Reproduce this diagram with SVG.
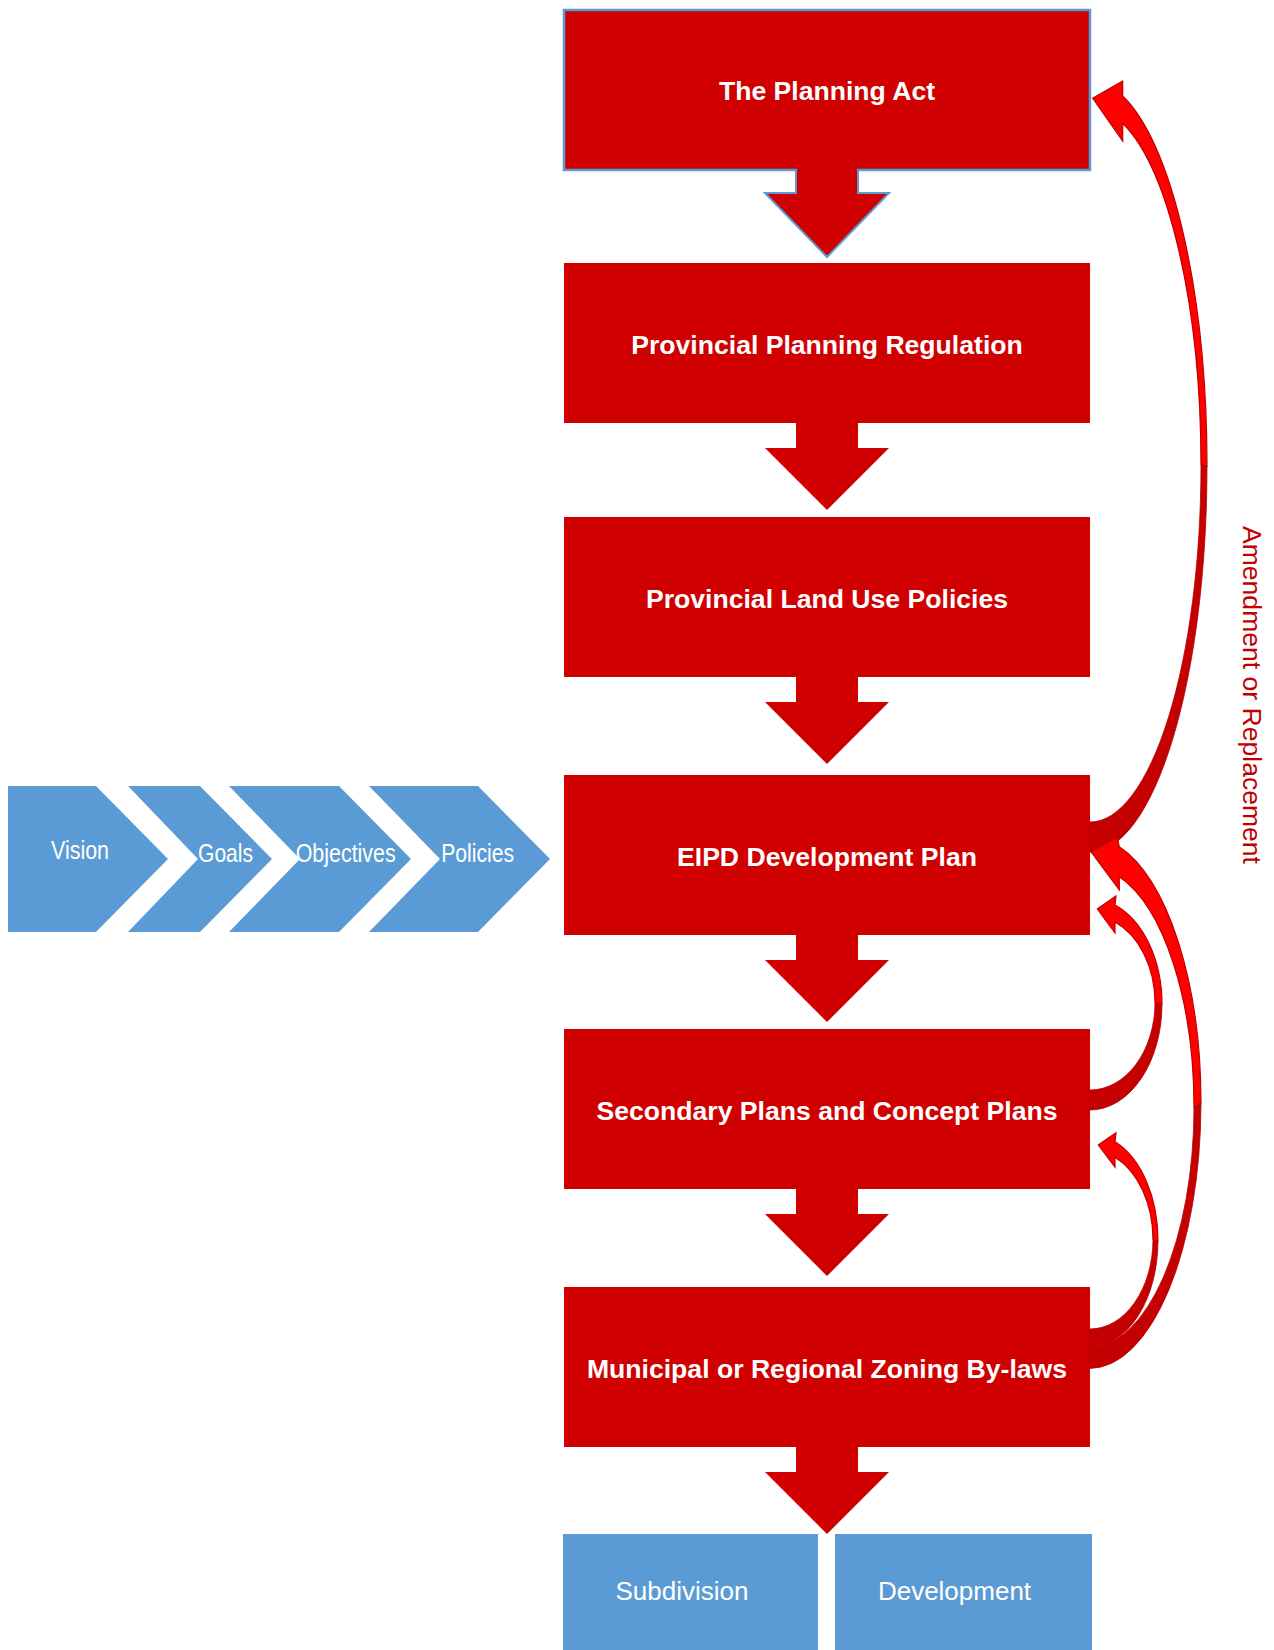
<svg xmlns="http://www.w3.org/2000/svg" width="1274" height="1650" viewBox="0 0 1274 1650">
<style>
.box{fill:#D00000}
.btxt{font-family:"Liberation Sans",Arial,sans-serif;font-weight:bold;font-size:26.6px;fill:#FFFFFF;text-anchor:middle}
.blue{fill:#5B9BD5}
.wtxt{font-family:"Liberation Sans",Arial,sans-serif;font-size:26px;fill:#FFFFFF;text-anchor:middle}
.down{fill:#D00000}
.light{fill:#FF0000;stroke:#C00000;stroke-width:1.2;stroke-linejoin:miter}
.dark{fill:#C40000;stroke:#B80000;stroke-width:0.8}
.rtxt{font-family:"Liberation Sans",Arial,sans-serif;font-size:26px;fill:#C00000}
</style>
<rect width="1274" height="1650" fill="#FFFFFF"/>

<g id="chevrons">
  <g id="vision">
    <polygon class="blue" points="8,786 96,786 168,859 96,932 8,932"/>
    <text class="wtxt" x="80" y="859" textLength="58" lengthAdjust="spacingAndGlyphs">Vision</text>
  </g>
  <g id="goals">
    <polygon class="blue" points="128,786 200,786 272,859 200,932 128,932 198,859"/>
    <text class="wtxt" x="225.5" y="862" textLength="55" lengthAdjust="spacingAndGlyphs">Goals</text>
  </g>
  <g id="objectives">
    <polygon class="blue" points="229,786 339,786 411,859 339,932 229,932 300,859"/>
    <text class="wtxt" x="345.7" y="862" textLength="100" lengthAdjust="spacingAndGlyphs">Objectives</text>
  </g>
  <g id="policies">
    <polygon class="blue" points="369,786 478,786 550,859 478,932 369,932 440,859"/>
    <text class="wtxt" x="477.7" y="862" textLength="73" lengthAdjust="spacingAndGlyphs">Policies</text>
  </g>
</g>

<g id="down-arrows">
  <polygon class="down" stroke="#5B9BD5" stroke-width="2" points="796,170 858,170 858,193 889,193 827,257 765,193 796,193"/>
  <polygon class="down" points="796,423 858,423 858,448 889,448 827,510 765,448 796,448"/>
  <polygon class="down" points="796,677 858,677 858,702 889,702 827,764 765,702 796,702"/>
  <polygon class="down" points="796,935 858,935 858,960 889,960 827,1022 765,960 796,960"/>
  <polygon class="down" points="796,1189 858,1189 858,1214 889,1214 827,1276 765,1214 796,1214"/>
  <polygon class="down" points="796,1447 858,1447 858,1472 889,1472 827,1534 765,1472 796,1472"/>
</g>

<g id="planning-act">
  <rect class="box" x="564" y="10" width="526" height="160" stroke="#5B9BD5" stroke-width="2.5"/>
  <rect class="box" x="797.2" y="166" width="59.6" height="8"/>
  <text class="btxt" x="827" y="100">The Planning Act</text>
</g>
<g id="provincial-planning-regulation">
  <rect class="box" x="564" y="263" width="526" height="160"/>
  <text class="btxt" x="827" y="354">Provincial Planning Regulation</text>
</g>
<g id="provincial-land-use-policies">
  <rect class="box" x="564" y="517" width="526" height="160"/>
  <text class="btxt" x="827" y="608">Provincial Land Use Policies</text>
</g>
<g id="eipd-development-plan">
  <rect class="box" x="564" y="775" width="526" height="160"/>
  <text class="btxt" x="827" y="866">EIPD Development Plan</text>
</g>
<g id="secondary-plans">
  <rect class="box" x="564" y="1029" width="526" height="160"/>
  <text class="btxt" x="827" y="1120">Secondary Plans and Concept Plans</text>
</g>
<g id="zoning-bylaws">
  <rect class="box" x="564" y="1287" width="526" height="160"/>
  <text class="btxt" x="827" y="1378">Municipal or Regional Zoning By-laws</text>
</g>

<g id="subdivision">
  <rect class="blue" x="563" y="1534" width="255" height="116"/>
  <text class="wtxt" x="682" y="1600">Subdivision</text>
</g>
<g id="development">
  <rect class="blue" x="835" y="1534" width="257" height="116"/>
  <text class="wtxt" x="954.5" y="1600">Development</text>
</g>

<g id="connectors">
  <g id="arrow-eipd-to-act">
    <path class="dark" d="M1207,466.3 A117,385.7 0 0 1 1090,852 L1090,822 A111,357.3 0 0 0 1201,464.7 Z"/>
    <path class="light" d="M1122.7,81 L1092.7,98.3 L1122.7,141 L1122.7,123.3 A111,357.3 0 0 1 1201,464.7 L1207,466.3 A117,385.7 0 0 0 1122.7,96 Z"/>
  </g>
  <g id="arrow-secondary-to-eipd">
    <path class="dark" d="M1162,1004.2 A72,105.8 0 0 1 1090,1110 L1090,1090 A65,87.4 0 0 0 1155,1002.6 Z"/>
    <path class="light" d="M1116,896 L1097.3,909 L1115,933 L1115,922 A65,87.4 0 0 1 1155,1002.6 L1162,1004.2 A72,105.8 0 0 0 1115,905 Z"/>
  </g>
  <g id="arrow-zoning-to-eipd">
    <path class="dark" d="M1201,1103 A111,265.4 0 0 1 1090,1368.4 L1090,1347 A104,239.8 0 0 0 1194,1107.2 Z"/>
    <path class="light" d="M1117.3,837.3 L1091,851.7 L1119.3,890 L1119.3,876.7 A104,239.8 0 0 1 1194,1107.2 L1201,1103 A111,265.4 0 0 0 1119.3,846.7 Z"/>
  </g>
  <g id="arrow-zoning-to-secondary">
    <path class="dark" d="M1158,1240.8 A68,106.2 0 0 1 1090,1347 L1090,1329 A63,89.7 0 0 0 1153,1239.3 Z"/>
    <path class="light" d="M1116,1132.7 L1098.3,1145 L1115,1167.3 L1115,1157.3 A63,89.7 0 0 1 1153,1239.3 L1158,1240.8 A68,106.2 0 0 0 1115,1141.7 Z"/>
  </g>
</g>

<g id="label-amendment">
  <text class="rtxt" transform="translate(1243,526) rotate(90)" textLength="338" lengthAdjust="spacingAndGlyphs">Amendment or Replacement</text>
</g>
</svg>
